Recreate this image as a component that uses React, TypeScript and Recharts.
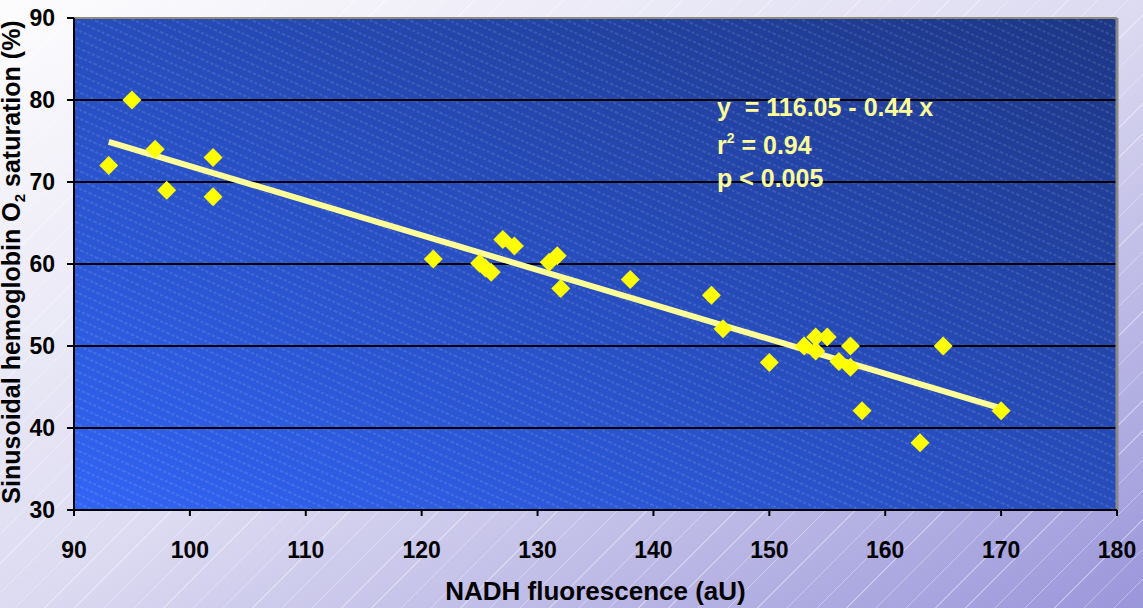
import { ScatterChart, Scatter, XAxis, YAxis, ReferenceLine, ReferenceArea } from "recharts";

// NADH fluorescence (aU) vs sinusoidal HbO2 saturation (%)
const points = [
  { x: 93, y: 72 },
  { x: 95, y: 80 },
  { x: 97, y: 74 },
  { x: 98, y: 69 },
  { x: 102, y: 73 },
  { x: 102, y: 68.2 },
  { x: 121, y: 60.6 },
  { x: 125, y: 60.1 },
  { x: 125.5, y: 59.5 },
  { x: 126, y: 59 },
  { x: 127, y: 63 },
  { x: 128, y: 62.2 },
  { x: 131, y: 60.2 },
  { x: 131.7, y: 61 },
  { x: 132, y: 57 },
  { x: 138, y: 58.1 },
  { x: 145, y: 56.2 },
  { x: 146, y: 52.1 },
  { x: 150, y: 48 },
  { x: 153, y: 50 },
  { x: 154, y: 51.1 },
  { x: 154, y: 49.4 },
  { x: 155, y: 51.1 },
  { x: 156, y: 48.1 },
  { x: 157, y: 50 },
  { x: 157, y: 47.4 },
  { x: 158, y: 42.1 },
  { x: 163, y: 38.2 },
  { x: 165, y: 50 },
  { x: 170, y: 42.1 },
];

// regression line end points, as drawn
const fitLine = [
  { x: 93, y: 74.9 },
  { x: 170, y: 42.4 },
];

const xTicks = [90, 100, 110, 120, 130, 140, 150, 160, 170, 180];
const yTicks = [30, 40, 50, 60, 70, 80, 90];
const gridValues = [40, 50, 60, 70, 80];

const font = "'Liberation Sans', Arial, sans-serif";

const Diamond = (props: any) => {
  const { cx, cy } = props;
  const r = 9.5;
  return (
    <polygon
      points={`${cx},${cy - r} ${cx + r},${cy} ${cx},${cy + r} ${cx - r},${cy}`}
      fill="#FFFF00"
    />
  );
};

const App = () => (
  <div
    style={{
      position: "absolute",
      left: 0,
      top: 0,
      width: 1143,
      height: 608,
      background:
        "repeating-linear-gradient(135deg, rgba(255,255,255,0) 0px, rgba(255,255,255,0) 20px, rgba(255,255,255,0.35) 20px, rgba(255,255,255,0.35) 21px), linear-gradient(to bottom right, #FDFDFE 0%, #DDDBF1 50%, #9A96DA 100%)",
    }}
  >
    <ScatterChart width={1143} height={608} margin={{ top: 18, right: 26, bottom: 0, left: 0 }}>
      <defs>
        <linearGradient id="plotBg" x1="0" y1="1" x2="1" y2="0">
          <stop offset="0%" stopColor="#3164F4" />
          <stop offset="100%" stopColor="#1D3685" />
        </linearGradient>
        <pattern id="hatch" width="16" height="8" patternUnits="userSpaceOnUse" patternTransform="rotate(24)">
          <line x1="0" y1="4" x2="16" y2="4" stroke="#ffffff" strokeOpacity={0.22} strokeWidth={1} strokeDasharray="3 2" />
        </pattern>
      </defs>
      <XAxis
        type="number"
        dataKey="x"
        domain={[90, 180]}
        ticks={xTicks}
        height={98}
        interval={0}
        tickSize={6}
        tickMargin={26}
        axisLine={{ stroke: "#000", strokeWidth: 2 }}
        tickLine={{ stroke: "#000", strokeWidth: 2 }}
        tick={{ fill: "#000", fontSize: 23, fontWeight: "bold", fontFamily: font }}
        label={{
          value: "NADH fluorescence (aU)",
          position: "insideBottom",
          offset: 8,
          fill: "#000",
          fontSize: 26,
          fontWeight: "bold",
          fontFamily: font,
        }}
      />
      <YAxis
        type="number"
        dataKey="y"
        domain={[30, 90]}
        ticks={yTicks}
        width={74}
        interval={0}
        tickSize={7}
        tickMargin={12}
        axisLine={{ stroke: "#000", strokeWidth: 2 }}
        tickLine={{ stroke: "#000", strokeWidth: 2 }}
        tick={{ fill: "#000", fontSize: 23, fontWeight: "bold", fontFamily: font }}
      />
      <ReferenceArea x1={90} x2={180} y1={30} y2={90} fill="url(#plotBg)" fillOpacity={1} stroke="none" ifOverflow="visible" />
      <ReferenceArea x1={90} x2={180} y1={30} y2={90} fill="url(#hatch)" fillOpacity={1} stroke="none" ifOverflow="visible" />
      {gridValues.map((v) => (
        <ReferenceLine key={v} y={v} stroke="#000" strokeWidth={2} />
      ))}
      <ReferenceLine y={90} stroke="#8E8C78" strokeWidth={2} />
      <ReferenceLine x={180} stroke="#8A8A8A" strokeWidth={3} />
      <Scatter data={points} shape={<Diamond />} isAnimationActive={false} />
      <ReferenceLine
        segment={[fitLine[0], fitLine[1]]}
        stroke="#FFFF99"
        strokeWidth={6}
      />
      <text
        transform="translate(20,262) rotate(-90)"
        textAnchor="middle"
        fontSize={25}
        fontWeight="bold"
        fontFamily={font}
        fill="#000"
      >
        Sinusoidal hemoglobin O<tspan fontSize={15} dy={5}>2</tspan>
        <tspan dy={-5}> saturation (%)</tspan>
      </text>
    </ScatterChart>
    <svg
      width={1143}
      height={608}
      style={{ position: "absolute", left: 0, top: 0, pointerEvents: "none" }}
    >
      <g fill="#FFFF99" fontSize={25} fontWeight="bold" fontFamily={font}>
        <text x={717} y={116} xmlSpace="preserve">y  = 116.05 - 0.44 x</text>
        <text x={717} y={154}>
          r<tspan fontSize={14} dy={-11}>2</tspan>
          <tspan dy={11}> = 0.94</tspan>
        </text>
        <text x={717} y={187}>p &lt; 0.005</text>
      </g>
    </svg>
  </div>
);

export default App;
